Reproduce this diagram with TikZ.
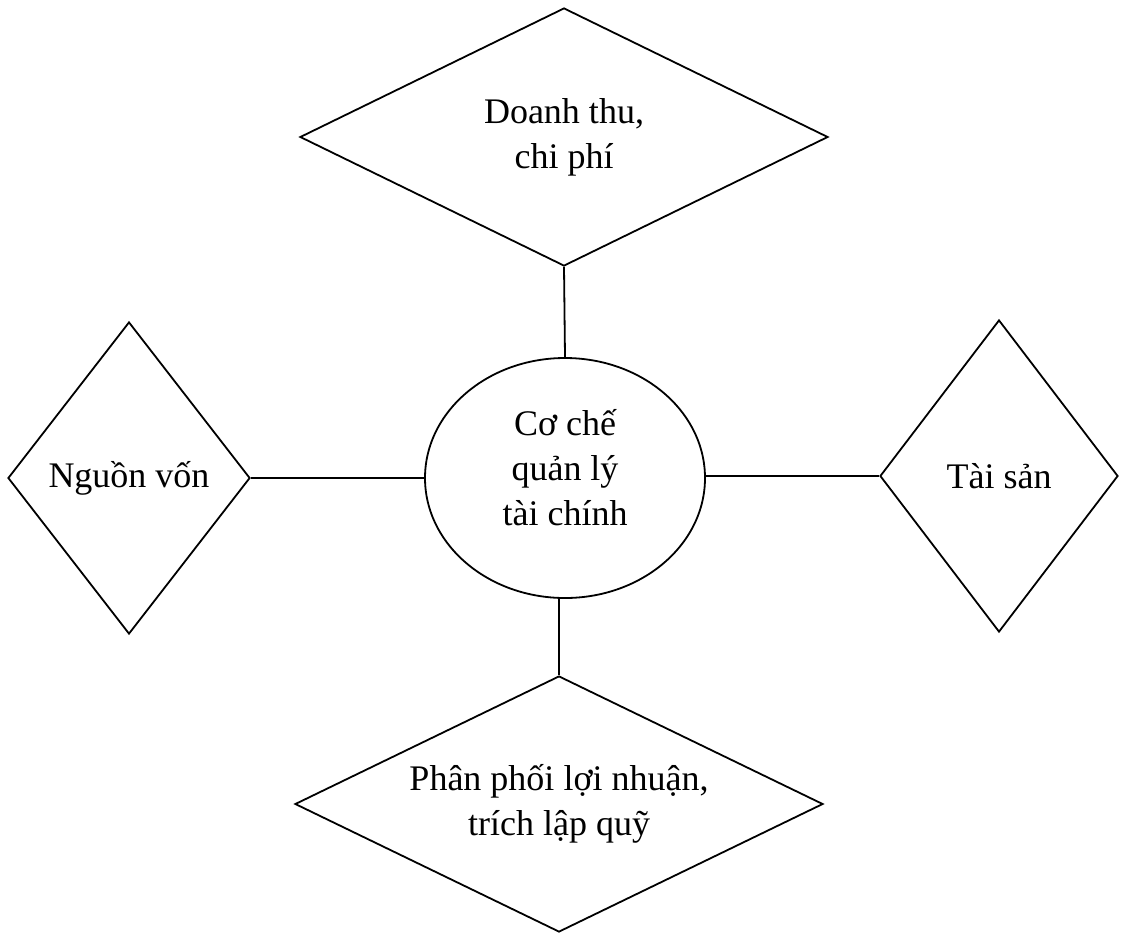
\documentclass[tikz,border=0pt]{standalone}
\usepackage{fontspec}
\setmainfont{Liberation Serif}
\usetikzlibrary{shapes.geometric}
\begin{document}
\begin{tikzpicture}[x=1pt,y=-1pt,
  every node/.style={font=\fontsize{36}{45}\selectfont, align=center, inner sep=0pt},
  topic/.style={draw, diamond, line width=1.8pt},
  core/.style={draw, ellipse, line width=1.8pt, minimum width=280pt, minimum height=240pt},
  link/.style={line width=1.8pt}]
\useasboundingbox (0,0) rectangle (1121,935);
% central ellipse
\node[core, label={[align=center, yshift=10pt]center:Cơ chế\\quản lý\\tài chính}] (c) at (565,478) {};
% surrounding diamonds (text set as centred labels so the outline keeps its size)
\node[topic, minimum width=528pt, minimum height=258pt,
      label={[align=center]center:Doanh thu,\\chi phí}] (top) at (564,137) {};
\node[topic, minimum width=242pt, minimum height=312pt,
      label={center:Nguồn vốn}] (left) at (129,478) {};
\node[topic, minimum width=238pt, minimum height=312pt,
      label={center:Tài sản}] (right) at (999,476) {};
\node[topic, minimum width=528pt, minimum height=256pt,
      label={[align=center]center:Phân phối lợi nhuận,\\trích lập quỹ}] (bot) at (559,804) {};
% connectors
\draw[link] (top.south) -- (c.north);
\draw[link] (left.east) -- (c.west);
\draw[link] (c.east |- right.west) -- (right.west);
\draw[link] (c.south -| bot.north) -- (bot.north);
\end{tikzpicture}
\end{document}
